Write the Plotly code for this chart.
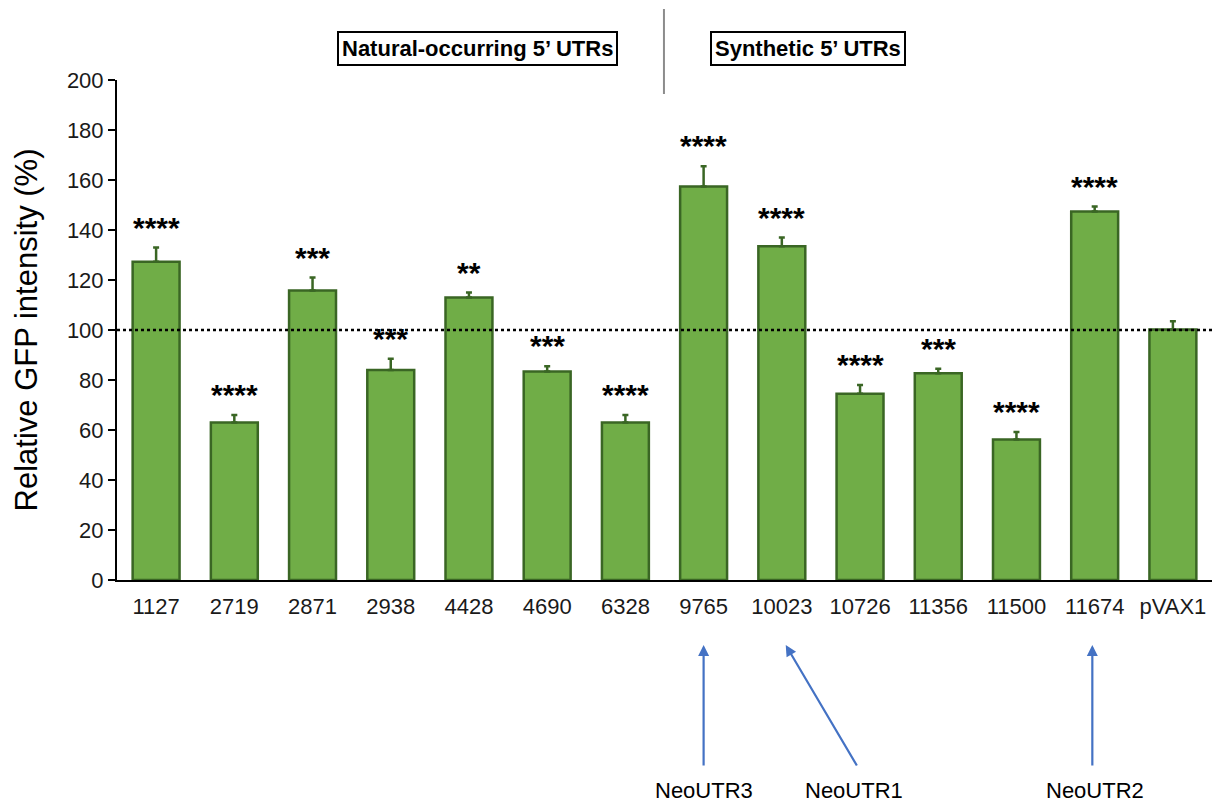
import plotly.graph_objects as go

categories = ["1127", "2719", "2871", "2938", "4428", "4690", "6328",
              "9765", "10023", "10726", "11356", "11500", "11674", "pVAX1"]
values = [127.3, 63.0, 115.8, 84.0, 113.0, 83.4, 63.0,
          157.4, 133.5, 74.5, 82.7, 56.2, 147.4, 100.2]
errors = [5.7, 3.0, 5.2, 4.5, 2.0, 2.1, 3.0,
          8.1, 3.5, 3.5, 1.8, 3.0, 2.0, 3.3]
stars = ["****", "****", "***", "***", "**", "***", "****",
         "****", "****", "****", "***", "****", "****", ""]
y_ticks = [0, 20, 40, 60, 80, 100, 120, 140, 160, 180, 200]
reference_level = 100
group_labels = ["Natural-occurring 5’ UTRs", "Synthetic 5’ UTRs"]
arrow_targets = ["9765", "10023", "11674"]
arrow_labels = ["NeoUTR3", "NeoUTR1", "NeoUTR2"]

FONT = "Arial, Liberation Sans, Helvetica, sans-serif"
GREEN = "#70AD47"
DARK = "#3A6624"
BLUE = "#4472C4"

fig = go.Figure()
fig.add_trace(go.Bar(
    x=list(range(len(categories))), y=values,
    marker=dict(color=GREEN, line=dict(color=DARK, width=2.5)),
    width=0.6,
    error_y=dict(type="data", array=errors, arrayminus=[0] * len(errors),
                 symmetric=False, color=DARK, thickness=2.5, width=3),
    hoverinfo="skip",
))

annotations = []
for i, (v, e, s) in enumerate(zip(values, errors, stars)):
    if s:
        annotations.append(dict(
            x=i, y=v + e, xref="x", yref="y", text="<b>" + s + "</b>",
            showarrow=False, yanchor="bottom", yshift=2,
            font=dict(family=FONT, size=30, color="black")))

# group label boxes
group_x = [0.3288, 0.6310]
for gx, gl in zip(group_x, group_labels):
    annotations.append(dict(
        x=gx, y=1.062, xref="paper", yref="paper", text="<b>" + gl + "</b>",
        showarrow=False, xanchor="center", yanchor="middle",
        font=dict(family=FONT, size=22, color="black"),
        bordercolor="black", borderwidth=2, borderpad=3, bgcolor="white"))

# arrows and labels
arrow_dx = {"9765": 0, "10023": 72, "11674": 0}
tip_shift = {"9765": 0, "10023": 0.05, "11674": -0.03}
for tgt, lab in zip(arrow_targets, arrow_labels):
    xi = categories.index(tgt)
    annotations.append(dict(
        x=xi + tip_shift[tgt], y=-0.13, xref="x", yref="paper", text="",
        showarrow=True, arrowhead=2, arrowsize=1, arrowwidth=2.2,
        arrowcolor=BLUE, ax=arrow_dx[tgt], ay=122, axref="pixel", ayref="pixel"))
    annotations.append(dict(
        x=xi, y=-0.42, xref="x", yref="paper", text=lab, showarrow=False,
        xshift=arrow_dx[tgt], yanchor="middle",
        font=dict(family=FONT, size=22, color="black")))

shapes = [
    dict(type="line", xref="paper", yref="y", x0=0, x1=1,
         y0=reference_level, y1=reference_level,
         line=dict(color="black", width=2.5, dash="dot"), layer="above"),
    dict(type="line", xref="paper", yref="paper", x0=0.4995, x1=0.4995,
         y0=0.972, y1=1.142, line=dict(color="#8C8C8C", width=2)),
]

fig.update_layout(
    width=1223, height=803,
    margin=dict(l=117, r=11, t=80, b=223),
    paper_bgcolor="white", plot_bgcolor="white",
    showlegend=False,
    annotations=annotations, shapes=shapes,
    font=dict(family=FONT, color="black"),
)
fig.update_xaxes(
    tickmode="array", tickvals=list(range(len(categories))), ticktext=categories,
    range=[-0.5, len(categories) - 0.5],
    showline=True, linecolor="black", linewidth=2, ticks="",
    showgrid=False, zeroline=False, ticklabelstandoff=6,
    tickfont=dict(family=FONT, size=22, color="#1a1a1a"),
)
fig.update_yaxes(
    range=[0, 200], tickmode="array", tickvals=y_ticks,
    showline=True, linecolor="black", linewidth=2,
    ticks="outside", ticklen=7, tickwidth=2, tickcolor="black",
    showgrid=False, zeroline=False,
    tickfont=dict(family=FONT, size=22, color="#1a1a1a"),
    title=dict(text="Relative GFP intensity (%)", standoff=20,
               font=dict(family=FONT, size=31, color="black")),
)

fig.write_html("out.html", config={"displayModeBar": False},
               post_script="document.body.style.margin='0';"
                           "document.body.style.overflow='hidden';")
